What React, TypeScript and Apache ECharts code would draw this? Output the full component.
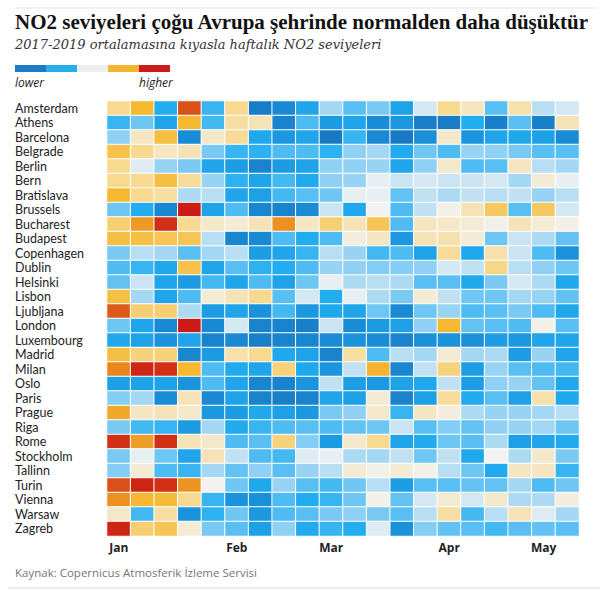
import React, { useEffect, useRef } from "react";
import * as echarts from "echarts";

const cities = [
  "Amsterdam", "Athens", "Barcelona", "Belgrade", "Berlin", "Bern", "Bratislava", "Brussels",
  "Bucharest", "Budapest", "Copenhagen", "Dublin", "Helsinki", "Lisbon", "Ljubljana", "London",
  "Luxembourg", "Madrid", "Milan", "Oslo", "Paris", "Prague", "Riga", "Rome", "Stockholm",
  "Tallinn", "Turin", "Vienna", "Warsaw", "Zagreb",
];

const monthLabels = ["Jan", "", "", "", "", "Feb", "", "", "", "Mar", "", "", "", "", "Apr", "", "", "", "May", ""];

// Relative NO2 level per week (-4 much lower ... +4 much higher)
const amsterdam = [1, 2, -2, 3.5, -1.8, 1, -3.7, -3.3, -2.3, -0.8, -1.5, -1.2, -2.4, -0.3, 1, 0.5, -1.5, 0.7, -0.6, -0.3];
const athens = [-1.8, -1.3, -2.3, 2, -1.7, 0.8, 0.6, -3.5, -1.6, -2.7, -2.3, -3.2, -2.8, -3.6, -3.7, -2, -3.6, -1.5, -3.6, 0.6];
const barcelona = [-1, 0.5, 1.8, -3.2, 0.4, 0.9, -2.2, -2.8, -2.3, -3.8, -1.8, -3.3, -3.8, -3.1, 0.4, -2.9, -2.3, -2.2, -2.5, -3.2];
const belgrade = [1.7, 1, 0.5, 0.6, -1.2, -1.8, -1.9, -1.6, -1.6, -1.9, -1, -0.8, -2.1, -1.3, -1.6, -0.9, -1, -1.2, -1.5, -1.5];
const berlin = [1, -0.2, -0.9, -1.2, -2.3, -2.6, -3.5, -2.7, -2.4, -1, -1, -0.9, -2.3, -1, 0.4, -1.6, -1.5, 0.5, -0.6, -0.8];
const bern = [1, 1, 1.8, 0.9, -0.9, -1.9, -2.3, -1.7, -2.1, -1, -0.9, -0.1, -0.4, -0.3, -0.4, -0.4, -0.3, -0.8, 0.3, -0.1];
const bratislava = [2, 1, 0.8, -0.7, -0.6, -2.3, -2.5, -1.7, -1.5, -1.3, -0.1, -0.1, -1.4, -0.5, -0.7, -0.5, -0.6, -0.5, -0.9, -0.6];
const brussels = [-1.3, -2, -3.4, 4, -2.4, -1.6, -3.4, -3.5, -3.2, -0.4, -2.2, 0, -1.6, -0.5, 0.1, 0.6, 1.5, -1.5, 1.5, -0.3];
const bucharest = [1.3, 2.6, 3.8, 1, 0.4, 0.3, 0.6, 2.8, 0.5, 1.3, 0.6, 1.6, -1.6, 0.5, 0.4, 0.3, 0.1, 0.6, 0.3, 0.1];
const budapest = [1.8, 1.8, 1.6, 1.6, -0.6, -3.4, -3.3, -1.6, -2, -1.6, 0.2, 0.5, -2.8, 0.6, 0.7, 0.3, -1.3, -0.4, -0.7, -1.4];
const copenhagen = [-1.2, -0.6, -0.8, -1.5, -0.8, -0.6, -2.6, -2.3, -1.8, -0.6, -0.9, -1.7, -1.6, -2.4, 0.9, -2.2, 0.7, -0.4, -1.6, -3];
const dublin = [-1.6, -1.8, -2.2, 1.7, -2.3, -1.5, -1.9, -2, -1.6, -0.9, -1, -1.1, -1.1, -1, -0.3, -0.5, 1.1, -0.6, -1, -1.3];
const helsinki = [-1.4, -0.4, -2.3, -2.7, -1.7, -2.3, -1.6, -2.4, -1.3, -0.1, -0.7, -0.6, -0.7, -1.5, -1.5, -2.2, -1.2, -0.3, -0.7, -2.2];
const lisbon = [1.8, -0.8, -2.3, -1.6, 0.3, 0.6, 1, -1.5, -0.3, -2, -0.1, -0.7, -1.2, 0.3, -0.5, -1.3, -1.3, -0.8, -0.9, -1.4];
const ljubljana = [3.4, 1.3, 1.3, -0.7, -2.7, -2.3, -3, -1.7, -2.8, -2.2, -2.3, -1.3, -3.3, -1.3, -0.9, -1.6, -1.5, -1.2, -1.6, -2.2];
const london = [-1.3, -2.3, -3.3, 4, -3.3, -0.3, -3.5, -3.5, -3.6, -0.4, -3.2, -2.7, -2.5, -1, 2, -1.4, -1.5, -1.6, 0.1, -1.5];
const luxembourg = [-2.2, -2.4, -3, -2.3, -3.5, -3.3, -3.6, -3.5, -3.4, -3.2, -3, -3.2, -3.5, -3.1, -3, -3.1, -2.6, -2.8, -2.3, -2.3];
const madrid = [1.8, 1.2, 1.2, -3.4, -2.7, 0.7, 1, -2.2, -2.4, -3.5, 0.8, -1.6, -0.6, -0.8, 0.3, -0.8, -0.7, -2.6, -0.9, -2.3];
const milan = [3, 3.9, 3.8, 2, -1.6, -2.1, -2.3, 1.2, -2.2, -2.9, -0.5, 2.1, -3.4, -0.5, 1.2, -2.6, -0.9, -1.5, -1.6, -1.7];
const oslo = [-2.5, -2.4, -2.4, -3, -1.6, -2.3, -3.4, -3.5, -2.9, -0.5, -2.6, -2.8, -2.4, -2.2, -0.5, -2.6, -1, -0.9, -1.4, -2.2];
const paris = [-1.1, -0.8, -3.2, 0.6, -3.3, -2.4, -3.5, -3.6, -3.5, -2.3, -2.5, 0.3, -3.5, -2.5, 0.9, -2.1, -1.5, -2.5, 0.7, -2.2];
const prague = [2.3, 0.5, 0.6, 0.4, -2.8, -2.7, -2.2, -2.5, -2.8, -1.2, -1, 0.4, -1.8, 0.5, 0.2, -0.7, -0.9, -0.9, -0.8, -0.6];
const riga = [-1.2, -1.7, -1.8, -2.7, -0.8, -2.1, -1.8, -1.6, -1.5, -1.6, -1.4, -1.3, -0.4, -1.5, -1.1, -1.4, -1, -0.9, -0.8, -1.3];
const rome = [3.8, 2.5, 3.8, 0.6, 0.4, -1.6, -1.5, 1.2, -1.1, -2.7, 0.4, 1, -2.3, -2.1, -1.3, -1.5, -0.7, -2.5, -2.3, -2.1];
const stockholm = [-1.2, -0.1, -1.3, -2.3, 0.6, -0.5, -1.6, -1.7, -0.2, -0.1, -0.7, -0.8, -0.5, -1.3, -0.5, -2.2, 0, -0.7, 0.4, -1.2];
const tallinn = [-1.1, 0.3, -1.6, -1.8, -0.8, -1.4, -1, -1.5, -0.9, -0.6, 0.3, 0.1, 0.3, 0.1, -0.6, -1.3, -2.1, 0.5, 0.5, -1.8];
const turin = [3.5, 3.9, 3.8, 2.7, 0, -1.3, -2.2, -0.9, -1.5, -1.7, -1.3, -0.6, -2.6, -1.5, -1.5, -1.4, -1.4, -0.8, -1.6, -1.3];
const vienna = [2.8, 2, 1.9, 1, -1.8, -3, -3.1, -1.6, -2, -1.8, -1.3, 0.1, -1.4, -0.3, 0.3, -0.3, 0.4, -0.7, -0.7, 0.2];
const warsaw = [0.4, -1.7, 0.8, -3, -1.9, -1.3, -2.8, -1.6, -1.5, -1.2, -1, -1.2, -1.5, -0.6, 0.8, -1.7, -0.6, 0.6, -0.2, -0.8];
const zagreb = [3.9, 1.3, 1.6, 0.3, -1.2, -1.5, -2.5, -1, -2.1, -1.8, -2, -0.2, -3, -1.1, -1.4, -1.5, -1.7, -1.5, -1.4, -1.5];

const rows = [
  amsterdam, athens, barcelona, belgrade, berlin, bern, bratislava, brussels, bucharest, budapest,
  copenhagen, dublin, helsinki, lisbon, ljubljana, london, luxembourg, madrid, milan, oslo, paris,
  prague, riga, rome, stockholm, tallinn, turin, vienna, warsaw, zagreb,
];

const scaleColors = [
  "#1872bd", "#1a93dc", "#22adf0", "#8fd0f4", "#f2f2f2", "#f7d98f", "#f5b830", "#e8861d", "#cc1a14",
];
const legendColors = ["#1b7cc4", "#27aee9", "#eeeeee", "#f2b632", "#cc1d1d"];

export default function App() {
  const ref = useRef<HTMLDivElement>(null);
  useEffect(() => {
    if (!ref.current) return;
    const chart = echarts.init(ref.current, null, { renderer: "svg" });
    const data: [number, number, number][] = [];
    rows.forEach((r, yi) => r.forEach((v, xi) => data.push([xi, yi, v])));
    const sans = "'Open Sans', 'Noto Sans', sans-serif";
    const labelSans = "Lato, 'Open Sans', sans-serif";
    const titleSerif = "'Liberation Serif', serif";
    const serif = "'DejaVu Serif', 'Liberation Serif', serif";
    const legendEls: any[] = legendColors.map((c, i) => ({
      type: "rect",
      shape: { x: 15 + i * 31, y: 65, width: 31, height: 7 },
      style: { fill: c },
    }));
    chart.setOption({
      animation: false,
      backgroundColor: "#ffffff",
      grid: { left: 107, right: 29, top: 101, height: 435 },
      xAxis: {
        type: "category",
        data: monthLabels,
        axisLine: { show: false },
        axisTick: { show: false },
        splitLine: { show: false },
        axisLabel: {
          interval: 0,
          margin: 5,
          color: "#222",
          fontFamily: sans,
          fontWeight: "bold",
          fontSize: 12,
        },
      },
      yAxis: {
        type: "category",
        data: cities,
        inverse: true,
        axisLine: { show: false },
        axisTick: { show: false },
        splitLine: { show: false },
        axisLabel: {
          interval: 0,
          align: "left",
          margin: 92,
          color: "#222",
          fontFamily: labelSans,
          fontSize: 12.5,
          lineHeight: 13,
        },
      },
      visualMap: {
        show: false,
        type: "continuous",
        min: -4,
        max: 4,
        dimension: 2,
        inRange: { color: scaleColors },
      },
      series: [
        {
          type: "heatmap",
          data,
          itemStyle: { borderColor: "#ffffff", borderWidth: 1 },
          emphasis: { disabled: true },
        },
      ],
      graphic: [
        { type: "line", shape: { x1: 15, y1: 8, x2: 598, y2: 8 }, style: { stroke: "#e6e6e6", lineWidth: 1 } },
        {
          type: "text",
          x: 15,
          y: 11,
          style: {
            text: "NO2 seviyeleri çoğu Avrupa şehrinde normalden daha düşüktür",
            fontFamily: titleSerif,
            fontWeight: "bold",
            fontSize: 21,
            fill: "#121212",
          },
        },
        {
          type: "text",
          x: 15,
          y: 38,
          style: {
            text: "2017-2019 ortalamasına kıyasla haftalık NO2 seviyeleri",
            fontFamily: serif,
            fontStyle: "italic",
            fontSize: 13,
            fill: "#333",
          },
        },
        ...legendEls,
        {
          type: "text",
          x: 15,
          y: 76,
          style: { text: "lower", fontFamily: sans, fontStyle: "italic", fontSize: 12, fill: "#222" },
        },
        {
          type: "text",
          x: 139,
          y: 76,
          style: { text: "higher", fontFamily: sans, fontStyle: "italic", fontSize: 12, fill: "#222" },
        },
        {
          type: "text",
          x: 15,
          y: 566,
          style: {
            text: "Kaynak: Copernicus Atmosferik İzleme Servisi",
            fontFamily: sans,
            fontSize: 11.5,
            fill: "#767676",
          },
        },
        { type: "line", shape: { x1: 8, y1: 588, x2: 600, y2: 588 }, style: { stroke: "#dcdcdc", lineWidth: 1 } },
      ],
    });
    return () => chart.dispose();
  }, []);
  return <div ref={ref} style={{ width: 608, height: 590, position: "absolute", left: 0, top: 0 }} />;
}
